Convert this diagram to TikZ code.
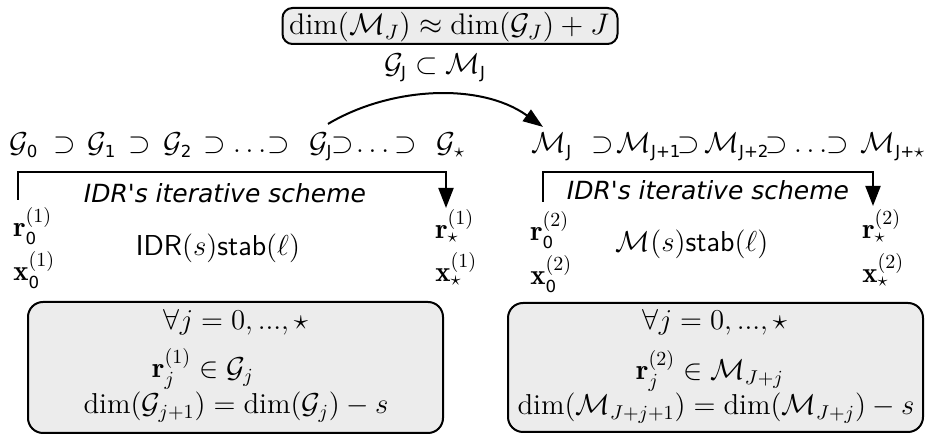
\RequirePackage{fix-cm}
\documentclass[tikz,border=0pt]{standalone}
\usepackage{amsmath,amssymb}
\usepackage{fontspec}
\newfontfamily\dv{DejaVu Sans}
\usetikzlibrary{arrows.meta,calc}
\definecolor{boxgray}{RGB}{236,236,236}
\newcommand{\ds}[1]{\mbox{\dv\fontsize{8.3}{9}\selectfont #1}}
\begin{document}
\begin{tikzpicture}[x=0.5pt,y=-0.5pt,
  m/.style={font=\fontsize{14.4}{17}\selectfont, inner sep=0pt},
  lab/.style={font=\dv\itshape\fontsize{12.5}{15}\selectfont, inner sep=0pt},
  gbox/.style={draw, line width=1pt, fill=boxgray},
  arr/.style={line width=1pt, -{Triangle[length=10pt,width=7.5pt]}}]
\useasboundingbox (0,0) rectangle (927,437);

% top box
\node[gbox, rounded corners=5pt, inner sep=0pt, minimum width=167.5pt, minimum height=18pt] (top) at (450,26) {};
\node[font=\fontsize{14.9}{18}\selectfont, inner sep=0pt, anchor=base] (toptxt) at (449,35) {$\dim(\mathcal{M}_J) \approx \dim(\mathcal{G}_J) + J$};
\node[m, anchor=base] (incl) at (435,74) {$\mathcal{G}_{\ds{J}} \subset \mathcal{M}_{\ds{J}}$};

% left row
\foreach \x/\c [count=\i] in {24/{\mathcal{G}_{\ds{0}}}, 65/{\supset}, 102/{\mathcal{G}_{\ds{1}}}, 140/{\supset},
  178/{\mathcal{G}_{\ds{2}}}, 215/{\supset}, 252/{\dots}, 279/{\supset}, 321/{\mathcal{G}_{\ds{J}}},
  343/{\supset}, 375/{\dots}, 406/{\supset}, 451/{\mathcal{G}_{\star}}}
  \node[m, anchor=base] (g\i) at (\x,153) {$\c$};

% right row
\foreach \x/\c [count=\i] in {552/{\mathcal{M}_{\ds{J}}}, 603/{\supset}, 649/{\mathcal{M}_{\ds{J+1}}}, 689/{\supset},
  737/{\mathcal{M}_{\ds{J+2}}}, 777/{\supset}, 813/{\dots}, 838/{\supset}, 893/{\mathcal{M}_{\ds{J+}\star}}}
  \node[m, anchor=base] (h\i) at (\x,153) {$\c$};

% arc
\draw[line width=1pt, -{Triangle[length=10pt,width=7pt]}] ([shift={(7,-9)}]g9.north) .. controls +(62,-37) and +(-63,-45) .. ([shift={(-9,-6)}]h1.north);

% brackets
\coordinate (la) at (18,200);
\coordinate (lc1) at (18,172);
\coordinate (lc2) at (446,172);
\coordinate (lt) at (446,208);
\draw[arr] (la) -- (lc1) -- (lc2) -- (lt);
\coordinate (ra) at (543,202);
\coordinate (rc1) at (543,172);
\coordinate (rc2) at (873,172);
\coordinate (rt) at (873,206);
\draw[arr] (ra) -- (rc1) -- (rc2) -- (rt);

\node[lab, anchor=base] (sl) at (225,203) {IDR's iterative scheme};
\node[lab, anchor=base] (sr) at (708,200) {IDR's iterative scheme};

% left vectors
\node[m, anchor=base west] (r01) at (13,237) {$\mathbf{r}_{\ds{0}}^{(1)}$};
\node[m, anchor=base west] (x01) at (13,281) {$\mathbf{x}_{\ds{0}}^{(1)}$};
\node[m, anchor=base west] (rs1) at (435,239) {$\mathbf{r}_{\star}^{(1)}$};
\node[m, anchor=base west] (xs1) at (435,282) {$\mathbf{x}_{\star}^{(1)}$};
\node[m, anchor=base] (idr) at (218,256) {$\mathsf{IDR}(s)\mathsf{stab}(\ell)$};

% right vectors
\node[m, anchor=base west] (r02) at (530,241) {$\mathbf{r}_{\ds{0}}^{(2)}$};
\node[m, anchor=base west] (x02) at (530,285) {$\mathbf{x}_{\ds{0}}^{(2)}$};
\node[m, anchor=base west] (rs2) at (862,239) {$\mathbf{r}_{\star}^{(2)}$};
\node[m, anchor=base west] (xs2) at (862,283) {$\mathbf{x}_{\star}^{(2)}$};
\node[m, anchor=base] (mst) at (692,252) {$\mathcal{M}(s)\mathsf{stab}(\ell)$};

% bottom boxes
\node[gbox, rounded corners=7.5pt, minimum width=207.5pt, minimum height=65.5pt] (lbox) at (235.5,367.5) {};
\node[gbox, rounded corners=7.5pt, minimum width=207.5pt, minimum height=64.5pt] (rbox) at (715.5,367.5) {};

\node[m, anchor=base] (lf) at (236,330) {$\forall j = 0, ..., \star$};
\node[m, anchor=base] (lr) at (203,378) {$\mathbf{r}_j^{(1)} \in \mathcal{G}_j$};
\node[m, anchor=base] (ld) at (236,414) {$\dim(\mathcal{G}_{j+1}) = \dim(\mathcal{G}_j) - s$};

\node[m, anchor=base] (rf) at (715,330) {$\forall j = 0, ..., \star$};
\node[m, anchor=base] (rr) at (710,380) {$\mathbf{r}_j^{(2)} \in \mathcal{M}_{J+j}$};
\node[m, anchor=base] (rd) at (716,415) {$\dim(\mathcal{M}_{J+j+1}) = \dim(\mathcal{M}_{J+j}) - s$};
\end{tikzpicture}
\end{document}
